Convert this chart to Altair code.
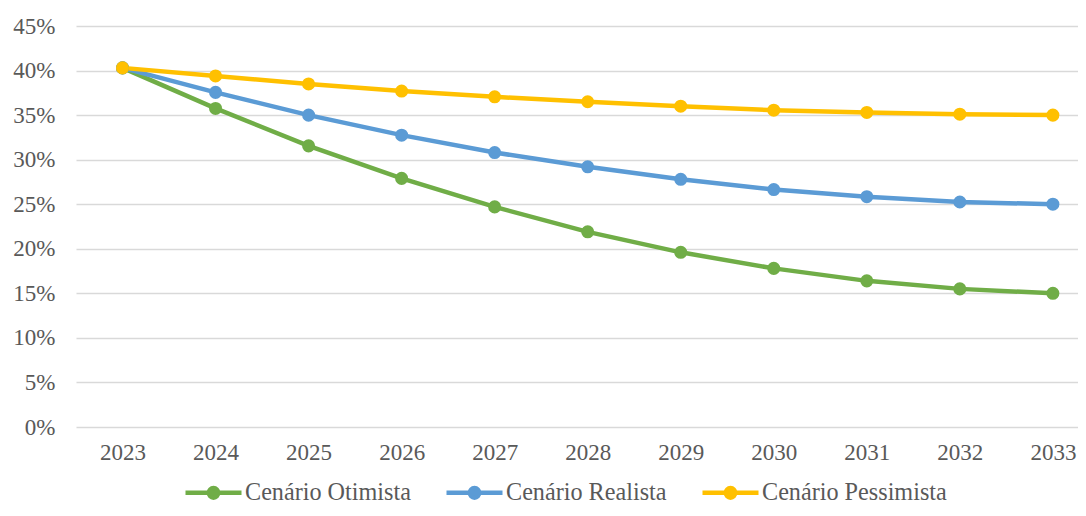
import altair as alt
import pandas as pd

years = [2023, 2024, 2025, 2026, 2027, 2028, 2029, 2030, 2031, 2032, 2033]
series_names = ["Cenário Otimista", "Cenário Realista", "Cenário Pessimista"]
otimista = [40.3, 35.75, 31.55, 27.9, 24.7, 21.9, 19.6, 17.8, 16.4, 15.5, 15.0]
realista = [40.3, 37.55, 35.0, 32.75, 30.8, 29.2, 27.8, 26.65, 25.85, 25.25, 25.0]
pessimista = [40.3, 39.4, 38.5, 37.7, 37.05, 36.5, 36.0, 35.55, 35.3, 35.1, 35.0]
colors = ["#70AD47", "#5B9BD5", "#FFC000"]
y_ticks = [0, 0.05, 0.10, 0.15, 0.20, 0.25, 0.30, 0.35, 0.40, 0.45]

rows = []
for name, vals in zip(series_names, [otimista, realista, pessimista]):
    for yr, v in zip(years, vals):
        rows.append({"year": yr, "value": v / 100, "series": name})
df = pd.DataFrame(rows)

FONT = "'Times New Roman', 'Liberation Serif', serif"
TXT = "#595959"

x_enc = alt.X("year:Q", scale=alt.Scale(domain=[2022.5, 2033.27], nice=False, zero=False),
              axis=alt.Axis(values=years, format="d", title=None, grid=False, ticks=False,
                            domain=False, labelPadding=14, labelFont=FONT,
                            labelFontSize=23, labelColor=TXT, labelFlush=False))
y_enc = alt.Y("value:Q", scale=alt.Scale(domain=[0, 0.45], nice=False),
              axis=alt.Axis(values=y_ticks, format=".0%", title=None, grid=True,
                            gridColor="#D9D9D9", gridWidth=1.5, ticks=False,
                            domain=False, labelPadding=21, labelFont=FONT,
                            labelFontSize=23, labelColor=TXT))

scale = alt.Scale(domain=series_names, range=colors)

chart = alt.Chart(df).mark_line(
    strokeWidth=4.5, point=alt.OverlayMarkDef(filled=True, size=170)
).encode(
    x=x_enc, y=y_enc,
    color=alt.Color("series:N", scale=scale, legend=alt.Legend(
        title=None, orient="none", legendX=107, legendY=436, direction="horizontal",
        symbolType="M-1,0H1M0.17,0A0.17,0.17,0,1,1,-0.17,0A0.17,0.17,0,1,1,0.17,0",
        symbolSize=3136, symbolStrokeWidth=4.5, labelOffset=1, columnPadding=26,
        labelLimit=400, labelFont=FONT, labelFontSize=24.2, labelColor=TXT)),
).properties(
    width=1002, height=401,
    autosize=alt.AutoSizeParams(type="none"),
    padding={"left": 68, "top": 18, "right": 0, "bottom": 81},
    background="white",
).configure_view(stroke=None)

chart.save("out.html", embed_options={"renderer": "svg", "actions": False})
